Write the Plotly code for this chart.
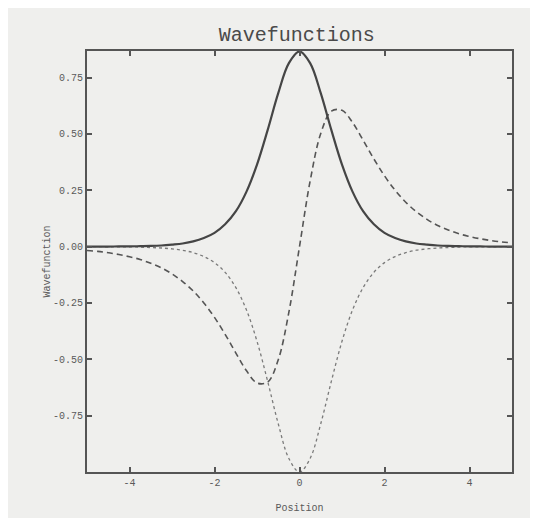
import plotly.graph_objects as go

# Position grid
x = [-5.0, -4.75, -4.5, -4.25, -4.0, -3.75, -3.5, -3.25, -3.0, -2.75, -2.5, -2.25, -2.0, -1.75, -1.5, -1.25,
     -1.0, -0.75, -0.5, -0.25, 0.0, 0.25, 0.5, 0.75, 1.0, 1.25, 1.5, 1.75, 2.0, 2.25, 2.5, 2.75, 3.0, 3.25,
     3.5, 3.75, 4.0, 4.25, 4.5, 4.75, 5.0]

# Solid curve (ground state)
psi_solid = [0.000, 0.000, 0.000, 0.001, 0.001, 0.002, 0.003, 0.005, 0.009, 0.014, 0.023, 0.038, 0.061, 0.099,
             0.156, 0.243, 0.364, 0.517, 0.681, 0.814, 0.866, 0.814, 0.681, 0.517, 0.364, 0.243, 0.156, 0.099,
             0.061, 0.038, 0.023, 0.014, 0.009, 0.005, 0.003, 0.002, 0.001, 0.001, 0.000, 0.000, 0.000]

# Dashed curve (first excited state)
psi_dashed = [-0.017, -0.021, -0.027, -0.035, -0.045, -0.057, -0.074, -0.094, -0.121, -0.155, -0.197, -0.250,
              -0.314, -0.389, -0.471, -0.550, -0.605, -0.601, -0.502, -0.291, 0.000, 0.291, 0.502, 0.601, 0.605,
              0.550, 0.471, 0.389, 0.314, 0.250, 0.197, 0.155, 0.121, 0.094, 0.074, 0.057, 0.045, 0.035, 0.027,
              0.021, 0.017]

# Dotted curve
psi_dotted = [-0.000, -0.000, -0.001, -0.001, -0.001, -0.002, -0.004, -0.006, -0.010, -0.016, -0.027, -0.044,
              -0.071, -0.114, -0.181, -0.280, -0.420, -0.597, -0.786, -0.940, -1.000, -0.940, -0.786, -0.597,
              -0.420, -0.280, -0.181, -0.114, -0.071, -0.044, -0.027, -0.016, -0.010, -0.006, -0.004, -0.002,
              -0.001, -0.001, -0.001, -0.000, -0.000]

x_tick_vals = [-4, -2, 0, 2, 4]
x_tick_text = ["-4", "-2", "0", "2", "4"]
y_tick_vals = [-0.75, -0.5, -0.25, 0.0, 0.25, 0.5, 0.75]
y_tick_text = ["-0.75", "-0.50", "-0.25", "0.00", "0.25", "0.50", "0.75"]

FONT = "Liberation Mono, Courier New, monospace"
INK = "#555555"
PAPER = "#efefed"
TXT = "#5a5a5a"

fig = go.Figure()
fig.add_trace(go.Scatter(x=x, y=psi_dotted, mode="lines", line=dict(color="#7a7a7a", width=1.3, dash="dot", shape="spline"),
                         showlegend=False))
fig.add_trace(go.Scatter(x=x, y=psi_dashed, mode="lines", line=dict(color="#555555", width=1.6, dash="6px,4px", shape="spline"),
                         showlegend=False))
fig.add_trace(go.Scatter(x=x, y=psi_solid, mode="lines", line=dict(color="#454545", width=2.2, shape="spline"),
                         showlegend=False))

fig.update_layout(
    width=530, height=510,
    paper_bgcolor=PAPER, plot_bgcolor=PAPER,
    margin=dict(l=79, r=26, t=43, b=46),
    title=dict(text="Wavefunctions", x=0.545, xanchor="center", y=0.949, yanchor="middle",
               font=dict(family=FONT, size=20, color="#4a4a4a")),
    font=dict(family=FONT, size=10, color=TXT),
)
fig.update_xaxes(
    range=[-5, 5], tickvals=x_tick_vals, ticktext=x_tick_text, automargin=False,
    ticks="inside", ticklen=5, tickwidth=1.5, tickcolor=INK,
    tickfont=dict(family=FONT, size=10, color=TXT),
    showline=True, linecolor=INK, linewidth=2, mirror="ticks",
    showgrid=False, zeroline=False,
    title=dict(text="Position", standoff=16, font=dict(family=FONT, size=10, color=TXT)),
)
fig.update_yaxes(
    range=[-1.0, 0.868], tickvals=y_tick_vals, ticktext=y_tick_text, automargin=False,
    ticks="inside", ticklen=5, tickwidth=1.5, tickcolor=INK,
    tickfont=dict(family=FONT, size=10, color=TXT),
    showline=True, linecolor=INK, linewidth=2, mirror="ticks",
    showgrid=False, zeroline=False,
    title=dict(text="Wavefunction", standoff=0, font=dict(family=FONT, size=10, color=TXT)),
)

fig.write_html("out.html")
